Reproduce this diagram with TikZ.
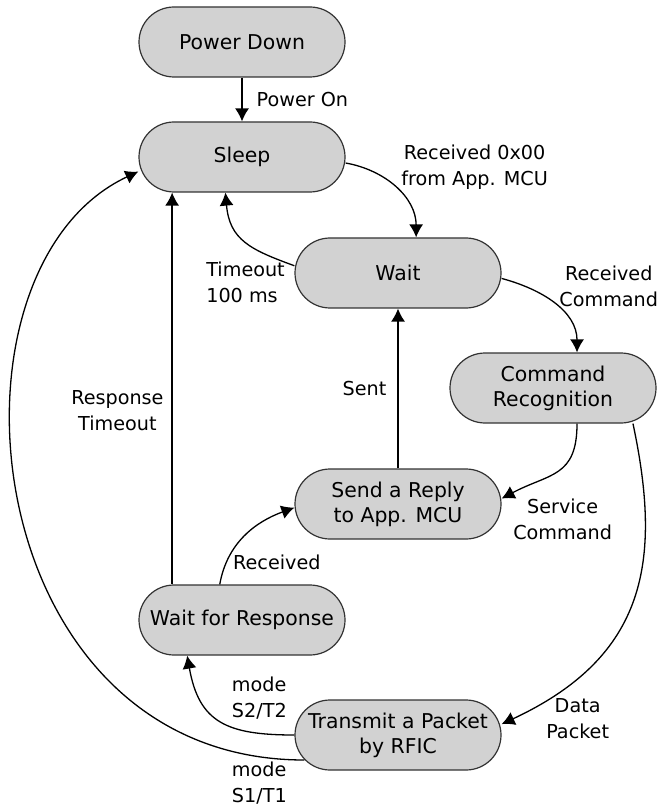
\documentclass[tikz,border=0pt]{standalone}
\usepackage{fontspec}
\setmainfont{DejaVu Sans}
\usetikzlibrary{arrows.meta,positioning}

\begin{document}
\begin{tikzpicture}[
    x=0.5pt, y=0.5pt,
    state/.style={draw=black!80, line width=0.6pt, fill=gray!35, rounded corners=17.5pt, minimum width=103pt, minimum height=35pt, inner sep=2pt, align=center, font=\fontsize{10.2}{12.5}\selectfont},
    trans/.style={draw, line width=0.65pt, -{Latex[length=6.5pt,width=7pt]}},
    lbl/.style={font=\fontsize{9.6}{13}\selectfont, inner sep=2pt}
]
\useasboundingbox (0,0) rectangle (670,-807);

\node[state] (powerdown) at (242,-42) {Power Down};
\node[state] (sleep) at (242,-157) {Sleep};
\node[state] (wait) at (398,-273) {Wait};
\node[state] (cmdrec) at (553,-388) {Command\\Recognition};
\node[state] (reply) at (398,-504) {Send a Reply\\to App. MCU};
\node[state] (waitresp) at (242,-620) {Wait for Response};
\node[state] (transmit) at (398,-735) {Transmit a Packet\\by RFIC};

\draw[trans] (powerdown.south) -- node[lbl, right=5pt] (l-poweron) {Power On} (sleep.north);
\draw[trans] ([yshift=-3pt]sleep.east) to[out=-10, in=90] node[lbl, pos=0.15, right=17pt, align=center] (l-rx00) {Received 0x00\\from App. MCU} (wait.63);
\draw[trans] (wait.176) to[out=160, in=-85, looseness=1.2] node[lbl, at start, anchor=east, xshift=-2.5pt, yshift=-8.5pt, align=left] (l-timeout) {Timeout\\100 ms} (sleep.245);
\draw[trans] (wait.-3.5) to[out=-15, in=90] node[lbl, pos=0.2, right=15pt, align=center] (l-rxcmd) {Received\\Command} (cmdrec.56);
\draw[trans] (cmdrec.-56) to[out=-90, in=28, looseness=1.3] node[lbl, at end, anchor=west, xshift=3.5pt, yshift=-10.5pt, align=center] (l-service) {Service\\Command} (reply.3);
\draw[trans] (cmdrec.-24.4) to[out=-78, in=25, out distance=70.5pt, in distance=80pt] node[lbl, at end, anchor=west, xshift=20pt, yshift=2.5pt, align=center] (l-data) {Data\\Packet} (transmit.6);
\draw[trans] (reply.north) -- node[lbl, left=3.5pt] (l-sent) {Sent} (wait.south);
\draw[trans] (waitresp.153) -- node[lbl, pos=0.443, left=2pt, align=center] (l-resptimeout) {Response\\Timeout} (sleep.207);
\draw[trans] (waitresp.122) to[out=80, in=200] node[lbl, pos=0.2, right=1pt] (l-received) {Received} (reply.182);
\draw[trans] (transmit.west) to[out=180, in=-80, looseness=1.3] node[lbl, at start, anchor=east, xshift=-1.5pt, yshift=18.5pt, align=left] (l-s2t2) {mode\\S2/T2} (waitresp.213);
\draw[trans] ([shift={(10,-25)}]transmit.west) to[out=180, in=205, out distance=165pt, in distance=115pt] node[lbl, at start, anchor=east, xshift=-6.5pt, yshift=-11.5pt, align=left] (l-s1t1) {mode\\S1/T1} (sleep.188);
\end{tikzpicture}
\end{document}
